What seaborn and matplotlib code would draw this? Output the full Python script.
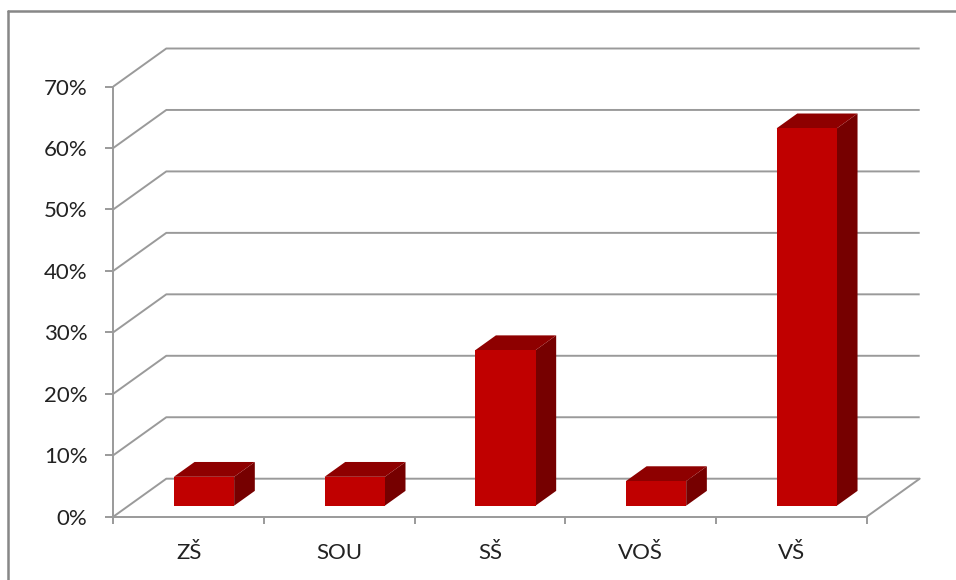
import numpy as np
import pandas as pd
import matplotlib
matplotlib.use("Agg")
import matplotlib.pyplot as plt
import seaborn as sns
from matplotlib.patches import Polygon
from matplotlib.lines import Line2D
from matplotlib.transforms import Affine2D
from matplotlib.ticker import FixedLocator, FixedFormatter

# ---- data ----
categories = ["ZŠ", "SOU", "SŠ", "VOŠ", "VŠ"]
values = [4.7, 4.7, 25.3, 4.0, 61.4]
y_ticks = [0, 10, 20, 30, 40, 50, 60, 70]
y_tick_labels = ["0%", "10%", "20%", "30%", "40%", "50%", "60%", "70%"]

# ---- style ----
FRONT = "#C00000"
TOP = "#8E0000"
SIDE = "#760000"
GRID = "#9A9A9A"
FRAME = "#878787"
TEXT = "#222222"

sns.set_theme(style="white")
plt.rcParams["font.family"] = ["Lato", "DejaVu Sans"]

W, H = 956, 580
fig = plt.figure(figsize=(W / 100, H / 100), dpi=100)
fig.patch.set_facecolor("white")

# axes = front plane of the 3D box
ax_l, ax_r, ax_b, ax_t = 113.3, 866.7, 516.7, 86.5
ax = fig.add_axes([ax_l / W, (H - ax_b) / H, (ax_r - ax_l) / W, (ax_b - ax_t) / H])
ax.set_facecolor("none")

df = pd.DataFrame({"category": categories, "value": values})
sns.barplot(data=df, x="category", y="value", width=0.4, color=FRONT,
            saturation=1, ax=ax, zorder=3, linewidth=0)
ax.set_xlim(-0.5, len(categories) - 0.5)
ax.set_ylim(0, 70)
ax.set_xlabel("")
ax.set_ylabel("")

# oblique depth (in data units) of the whole box
px_per_x = (ax_r - ax_l) / len(categories)
px_per_y = (ax_b - ax_t) / 70.0
Dx = 53.0 / px_per_x
Dy = 38.0 / px_per_y
t_front, t_back = 0.29, 0.68
fx, fy = t_front * Dx, t_front * Dy
bx, by = t_back * Dx, t_back * Dy

# walls / gridlines
x0w, x1w = -0.5, len(categories) - 0.5
for v in y_ticks:
    ax.plot([x0w, x0w + Dx, x1w + Dx], [v, v + Dy, v + Dy], color=GRID,
            lw=1.4, clip_on=False, zorder=1, solid_capstyle="butt")
ax.plot([x1w, x1w + Dx], [0, Dy], color=GRID, lw=1.4, clip_on=False, zorder=1)

# 3D bars built from the seaborn bars
shift = Affine2D().translate(fx, fy) + ax.transData
for p in list(ax.patches):
    x0 = p.get_x()
    x1 = x0 + p.get_width()
    h = p.get_height()
    p.set_transform(shift)
    p.set_clip_on(False)
    p.set_edgecolor("none")
    top = Polygon([(x0 + fx, h + fy), (x1 + fx, h + fy), (x1 + bx, h + by), (x0 + bx, h + by)],
                  closed=True, facecolor=TOP, edgecolor="none", clip_on=False, zorder=2)
    side = Polygon([(x1 + fx, fy), (x1 + bx, by), (x1 + bx, h + by), (x1 + fx, h + fy)],
                   closed=True, facecolor=SIDE, edgecolor="none", clip_on=False, zorder=2)
    ax.add_patch(side)
    ax.add_patch(top)

# spines
for s in ["top", "right"]:
    ax.spines[s].set_visible(False)
for s in ["left", "bottom"]:
    ax.spines[s].set_color(GRID)
    ax.spines[s].set_linewidth(1.4)
    ax.spines[s].set_zorder(1)

# y ticks
ax.yaxis.set_major_locator(FixedLocator(y_ticks))
ax.yaxis.set_major_formatter(FixedFormatter(y_tick_labels))
ax.tick_params(axis="y", which="major", left=True, direction="out", length=5.5,
               width=1.4, color=GRID, pad=13, labelsize=16, labelcolor=TEXT)

# x ticks: labels at centers, tick marks at boundaries
ax.set_xticks(range(len(categories)))
ax.set_xticklabels(categories)
ax.set_xticks(np.arange(-0.5, len(categories), 1.0), minor=True)
ax.tick_params(axis="x", which="major", bottom=True, length=0, pad=30.5,
               labelsize=16, labelcolor=TEXT)
ax.tick_params(axis="x", which="minor", bottom=True, direction="out", length=5,
               width=1.4, color=GRID)
for lab in ax.get_xticklabels():
    lab.set_verticalalignment("baseline")

# outer chart frame (cropped: only top and left visible)
fig.add_artist(Line2D([8 / W, 1.0], [1 - 11 / H, 1 - 11 / H], color=FRAME, lw=1.8,
                      transform=fig.transFigure))
fig.add_artist(Line2D([8 / W, 8 / W], [1 - 11 / H, 0.0], color=FRAME, lw=1.8,
                      transform=fig.transFigure))

fig.savefig("out.png", dpi=100)
